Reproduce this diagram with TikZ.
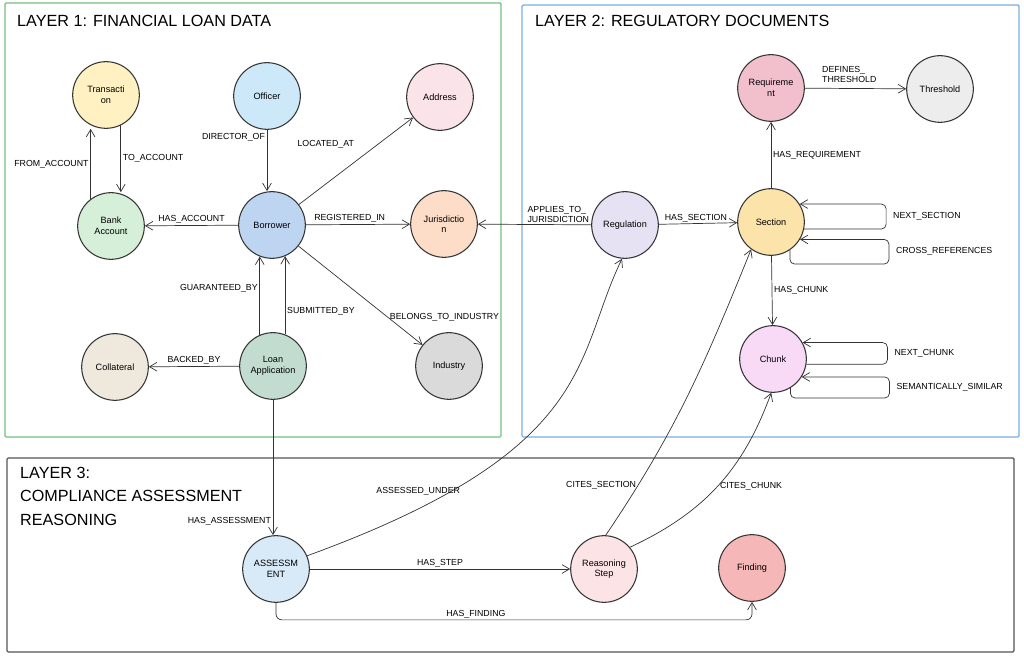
\documentclass[tikz,border=0pt]{standalone}
\usepackage{fontspec}
\setmainfont{Liberation Sans}
\usepackage{xcolor}
\usepackage{tikz}
\usetikzlibrary{arrows.meta,calc}
\definecolor{ink}{HTML}{333333}
\definecolor{frameA}{HTML}{72C27E}
\definecolor{frameB}{HTML}{7AAEE0}
\definecolor{frameC}{HTML}{555555}
\definecolor{cTrans}{HTML}{FFF1C2}
\definecolor{cOfficer}{HTML}{CDE8F8}
\definecolor{cAddress}{HTML}{FBE3EA}
\definecolor{cBank}{HTML}{D6EFD8}
\definecolor{cBorrower}{HTML}{BED5F2}
\definecolor{cJuris}{HTML}{FDDCC8}
\definecolor{cColl}{HTML}{EEE8DD}
\definecolor{cLoan}{HTML}{C2DDD0}
\definecolor{cIndustry}{HTML}{DADADA}
\definecolor{cReq}{HTML}{F2BFCD}
\definecolor{cThresh}{HTML}{EDEDED}
\definecolor{cReg}{HTML}{E6E1F3}
\definecolor{cSection}{HTML}{FCE3AA}
\definecolor{cChunk}{HTML}{F8D9F6}
\definecolor{cAsmt}{HTML}{D8EAF8}
\definecolor{cStep}{HTML}{FCE3E6}
\definecolor{cFinding}{HTML}{F5B7B7}

\begin{document}
\begin{tikzpicture}[
  x=0.3mm, y=0.3mm,
  font=\fontsize{7.8}{9}\selectfont,
  ent/.style={circle, draw=ink, line width=0.9pt, minimum size=20mm, inner sep=1pt, align=center},
  arr/.style={-{Straight Barb[length=2.2mm, width=2.6mm]}, draw=ink, line width=0.6pt},
  lbl/.style={font=\fontsize{7.5}{9}\selectfont, inner sep=1.5pt, align=left},
  layer/.style={line width=1.1pt, rounded corners=1pt},
  title/.style={font=\fontsize{13.8}{20}\selectfont, align=left, inner sep=0pt}
]
\useasboundingbox (0,0) rectangle (1024,-657);

% layers
\draw[layer, draw=frameA] (5,-3) rectangle (501,-437);
\draw[layer, draw=frameB] (522,-5) rectangle (1019,-437);
\draw[layer, draw=frameC] (7,-458) rectangle (1014,-652);
\node[title, anchor=base west] (t1) at (17,-27) {LAYER 1: FINANCIAL LOAN DATA};
\node[title, anchor=base west] (t2) at (535,-27) {LAYER 2: REGULATORY DOCUMENTS};
\node[title, anchor=north west] (t3) at (20,-467) {LAYER 3:\\COMPLIANCE ASSESSMENT\\REASONING};

% layer 1 entities
\node[ent, fill=cTrans] (trans) at (106,-95) {Transacti\\on};
\node[ent, fill=cOfficer] (officer) at (267,-96) {Officer};
\node[ent, fill=cAddress] (address) at (440,-97) {Address};
\node[ent, fill=cBank] (bank) at (111,-226) {Bank\\Account};
\node[ent, fill=cBorrower] (borrower) at (272,-225) {Borrower};
\node[ent, fill=cJuris] (juris) at (444,-224) {Jurisdictio\\n};
\node[ent, fill=cColl] (coll) at (115,-367) {Collateral};
\node[ent, fill=cLoan] (loan) at (273,-366) {Loan\\Application};
\node[ent, fill=cIndustry] (industry) at (449,-366) {Industry};

% layer 2 entities
\node[ent, fill=cReq] (req) at (771,-88) {Requireme\\nt};
\node[ent, fill=cThresh] (thresh) at (940,-89) {Threshold};
\node[ent, fill=cReg] (reg) at (625,-225) {Regulation};
\node[ent, fill=cSection] (section) at (771,-222) {Section};
\node[ent, fill=cChunk] (chunk) at (773,-359) {Chunk};

% layer 3 entities
\node[ent, fill=cAsmt] (asmt) at (276,-569) {ASSESSM\\ENT};
\node[ent, fill=cStep] (step) at (604,-569) {Reasoning\\Step};
\node[ent, fill=cFinding] (finding) at (752,-568) {Finding};

% layer 1 relations
\draw[arr] (bank.127) -- (bank.127 |- trans.south) node[lbl, midway, left] {FROM\_ACCOUNT};
\draw[arr] (trans.-64) -- (trans.-64 |- bank.north) node[lbl, midway, right] {TO\_ACCOUNT};
\draw[arr] (officer.south) -- (officer.south |- borrower.north) node[lbl, pos=0.12, left] {DIRECTOR\_OF};
\draw[arr] (borrower) -- (address) node[lbl, pos=0.5, anchor=south east, yshift=3.3mm] {LOCATED\_AT};
\draw[arr] (borrower) -- (bank) node[lbl, midway, above] {HAS\_ACCOUNT};
\draw[arr] (borrower) -- (juris) node[lbl, pos=0.42, above] {REGISTERED\_IN};
\draw[arr] (borrower) -- (industry) node[lbl, pos=0.72, anchor=west] {BELONGS\_TO\_INDUSTRY};
\draw[arr] (loan.113) -- (loan.113 |- borrower.-111) node[lbl, pos=0.6, left] {GUARANTEED\_BY};
\draw[arr] (loan.69) -- (loan.69 |- borrower.-67) node[lbl, pos=0.3, right] {SUBMITTED\_BY};
\draw[arr] (loan) -- (coll) node[lbl, midway, above] {BACKED\_BY};

% layer 2 relations
\draw[arr] (reg) -- (juris) node[lbl, pos=0, anchor=south east] {APPLIES\_TO\_\\JURISDICTION};
\draw[arr] (reg) -- (section) node[lbl, pos=0.05, anchor=south west] {HAS\_SECTION};
\draw[arr] (section) -- (req) node[lbl, midway, right] {HAS\_REQUIREMENT};
\draw[arr] (req) -- (thresh) node[lbl, pos=0.15, anchor=south west, yshift=1mm] {DEFINES\_\\THRESHOLD};
\draw[arr] (section) -- (chunk) node[lbl, midway, right] {HAS\_CHUNK};
\draw[arr, rounded corners=4pt] (section.-12) -- ++(82,0) |- node[lbl, pos=0.25, right=1.5mm] {NEXT\_SECTION} (section.32);
\draw[arr, rounded corners=4pt] (section.-56) |- ++(99,-14) |- node[lbl, pos=0.25, right=1.5mm] {CROSS\_REFERENCES} (section.-31);
\draw[arr, rounded corners=4pt] (chunk.-9) -- ++(81,0) |- node[lbl, pos=0.25, right=1.5mm] {NEXT\_CHUNK} (chunk.29);
\draw[arr, rounded corners=4pt] (chunk.-59) |- ++(99,-10) |- node[lbl, pos=0.25, right=1.5mm] {SEMANTICALLY\_SIMILAR} (chunk.-32);

% layer 3 relations
\draw[arr] (loan.south) -- (loan.south |- asmt.north) node[lbl, pos=0.9, left] {HAS\_ASSESSMENT};
\draw[arr] (asmt.23) .. controls +(20:310) and +(-116:110) .. node[lbl, pos=0.15, above=3.5mm] {ASSESSED\_UNDER} (reg.-95);
\draw[arr] (asmt) -- (step) node[lbl, midway, above] {HAS\_STEP};
\draw[arr, rounded corners=5pt] (asmt.south) -- ++(0,-17) -| node[lbl, pos=0.21, above] {HAS\_FINDING} (finding.south);
\draw[arr] (step.87) to[out=56, in=-112] node[lbl, pos=0.17, left] {CITES\_SECTION} (section.-126);
\draw[arr] (step.40) to[out=25, in=-110] node[lbl, pos=0.5, right] {CITES\_CHUNK} (chunk.-93);
\end{tikzpicture}
\end{document}
